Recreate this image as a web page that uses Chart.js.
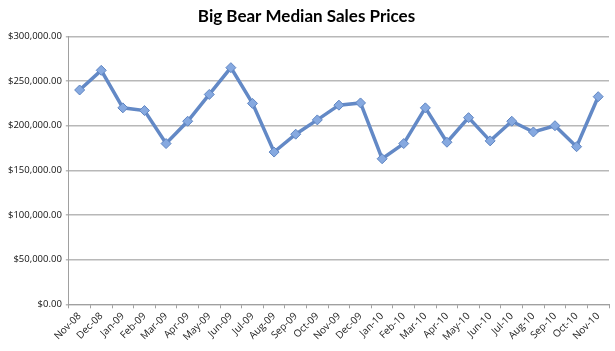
<!DOCTYPE html>
<html>
<head>
<meta charset="utf-8">
<script src="https://cdn.jsdelivr.net/npm/chart.js@4"></script>
<style>
  html, body { margin: 0; padding: 0; background: #fff; }
  #wrap { width: 615px; height: 351px; }
</style>
</head>
<body>
<div id="wrap"><canvas id="chart"></canvas></div>
<script>
const months = ['Nov-08', 'Dec-08', 'Jan-09', 'Feb-09', 'Mar-09', 'Apr-09', 'May-09', 'Jun-09', 'Jul-09',
  'Aug-09', 'Sep-09', 'Oct-09', 'Nov-09', 'Dec-09', 'Jan-10', 'Feb-10', 'Mar-10', 'Apr-10', 'May-10',
  'Jun-10', 'Jul-10', 'Aug-10', 'Sep-10', 'Oct-10', 'Nov-10']

const medianPrices = [240000, 262000, 220000, 217000, 180000, 205000, 235000, 265000, 225000,
  170500, 190500, 206500, 223000, 225500, 163000, 180000, 220000, 181500, 209000,
  183000, 205000, 193000, 200000, 176500, 232500]

const yTicks = { min: 0, max: 300000, step: 50000 }

const money = v => '$' + v.toLocaleString('en-US', { minimumFractionDigits: 2, maximumFractionDigits: 2 })

new Chart(document.getElementById('chart'), {
  type: 'line',
  data: {
    labels: months,
    datasets: [{
      label:            'Median Sales Price',
      data:             medianPrices,
      borderColor:      '#6389c6',
      borderWidth:      3.5,
      tension:          0,
      pointStyle:       'rectRot',
      pointRadius:      5,
      pointBackgroundColor: '#86a9e0',
      pointBorderColor: '#5f85c2',
      pointBorderWidth: 1,
    }],
  },
  options: {
    responsive: true, maintainAspectRatio: false, animation: false,
    layout: { padding: { left: 4, right: 6, top: 6, bottom: 6 } },
    plugins: {
      legend: { display: false },
      tooltip: { enabled: false },
      title: {
        display: true,
        text: 'Big Bear Median Sales Prices',
        color: '#000',
        font: { family: 'Lato', size: 17, weight: 'bold' },
        padding: { top: 0, bottom: 10 },
      },
    },
    scales: {
      x: {
        offset: true,
        grid: { offset: true, drawOnChartArea: false, drawTicks: true, tickLength: 4, color: '#a0a0a0' },
        border: { color: '#a0a0a0' },
        ticks: { color: '#222', font: { family: 'Open Sans', size: 10 }, minRotation: 45, maxRotation: 45, autoSkip: false, padding: 2 },
      },
      y: {
        min: yTicks.min, max: yTicks.max,
        grid: { color: '#b8b8b8', lineWidth: 1.5, drawTicks: true, tickLength: 3 },
        border: { color: '#a0a0a0' },
        ticks: { stepSize: yTicks.step, color: '#111', font: { family: 'Open Sans', size: 9.5 }, padding: 4, callback: v => money(v) },
      },
    },
  },
})
</script>
</body>
</html>
